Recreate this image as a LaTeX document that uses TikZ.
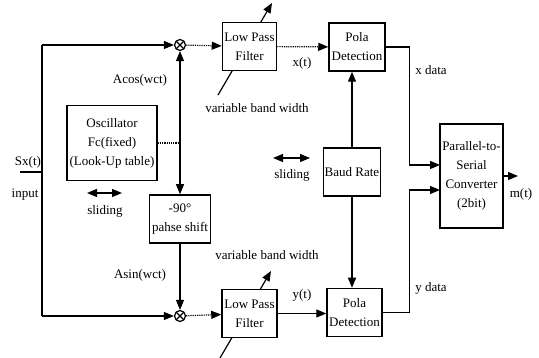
\documentclass[tikz,border=0pt]{standalone}
\usepackage{fontspec}
\setmainfont{Liberation Serif}
\usetikzlibrary{arrows.meta}
\newcommand*{\boxw}{55pt}
\newcommand*{\boxh}{48pt}

\begin{document}
\begin{tikzpicture}[x=1pt,y=-1pt,line width=1.2pt,
    font=\fontsize{13}{19}\selectfont,
    >={Triangle[length=10pt,width=8pt]},
    block/.style={draw,fill=white,align=center,inner sep=1pt,line width=1.5pt},
    mixer/.style={draw,fill=white,circle,minimum size=11pt,inner sep=0pt,
        path picture={\draw (path picture bounding box.north west) -- (path picture bounding box.south east)
                            (path picture bounding box.north east) -- (path picture bounding box.south west);}},
    lbl/.style={inner sep=0pt}]
    \useasboundingbox (0,0) rectangle (539,358);
    % variable band width arrows (behind the filters)
    \coordinate (vxa) at (218,95);  \coordinate (vxb) at (272,3);
    \coordinate (vya) at (220,358); \coordinate (vyb) at (271,271);
    \draw [->] (vxa) -- (vxb);
    \draw [->] (vya) -- (vyb);
    % blocks
    \node [block, minimum width=90pt, minimum height=75pt] (osc)   at (112,143) {Oscillator\\Fc(fixed)\\(Look-Up table)};
    \node [block, minimum width=61pt, minimum height=\boxh] (phase) at (180,219) {-90\textdegree\\pahse shift};
    \node [block, minimum width=54pt, minimum height=\boxh] (lpfx)  at (249.5,46.5) {Low Pass\\Filter};
    \node [block, minimum width=\boxw, minimum height=\boxh] (lpfy)  at (249.5,313.5) {Low Pass\\Filter};
    \node [block, minimum width=56pt, minimum height=\boxh] (polx)  at (357,47) {Pola\\Detection};
    \node [block, minimum width=\boxw, minimum height=\boxh] (poly)  at (354.5,312.5) {Pola\\Detection};
    \node [block, minimum width=54pt, minimum height=\boxh] (baud)  at (352,172) {Baud Rate};
    \node [block, minimum width=63pt, minimum height=104pt] (pts)  at (471.5,176) {Parallel-to-\\Serial\\Converter\\(2bit)};
    \node [mixer] (mixx) at (180,45) {};
    \node [mixer] (mixy) at (180,316) {};
    % input and branch points
    \coordinate (in)  at (20,172);
    \coordinate (inj) at (42,172);
    \coordinate (tl)  at (42,45);
    \coordinate (bl)  at (42,316);
    \coordinate (vj)  at (180,143);
    \coordinate (xin) at (440,165);
    \coordinate (yin) at (440,190);
    \coordinate (out) at (518,176);
    \draw (in) -- (inj);
    \draw (tl) -- (bl);
    \draw [->] (tl) -- (mixx);
    \draw [->] (bl) -- (mixy);
    \draw [densely dotted] (osc.east |- vj) -- (vj);
    \draw [<->] (mixx) -- (phase);
    \draw [->] (phase) -- (mixy);
    \draw [->, densely dotted] (mixx) -- (lpfx);
    \draw [->, densely dotted] (mixy) -- (lpfy);
    \draw [->, densely dotted] (lpfx) -- (polx);
    \draw [->] (lpfy.east) -- (poly.west |- lpfy.east);
    \draw [->] (baud.north) -- (baud.north |- polx.south);
    \draw [->] (baud.south) -- (baud.south |- poly.north);
    \draw [->] (polx.east) -- ([xshift=24pt]polx.east) |- (xin);
    \draw [->] (poly.east) -- ([xshift=27pt]poly.east) |- (yin);
    \draw [->] (pts.east) -- (out);
    % sliding arrows
    \coordinate (sla) at (87,193);  \coordinate (slb) at (122,193);
    \coordinate (slc) at (273,158); \coordinate (sld) at (310,158);
    \draw [<->] (sla) -- (slb);
    \draw [<->] (slc) -- (sld);
    % labels
    \node [lbl] (sx)    at (28,162)  {Sx(t)};
    \node [lbl] (inp)   at (25,195)  {input};
    \node [lbl] (acos)  at (140,80)  {Acos(wct)};
    \node [lbl] (asin)  at (140,275) {Asin(wct)};
    \node [lbl] (sl1)   at (105,211) {sliding};
    \node [lbl] (sl2)   at (292,175) {sliding};
    \node [lbl] (vbx)   at (257,108) {variable band width};
    \node [lbl] (vby)   at (267,255) {variable band width};
    \node [lbl] (xt)    at (302,63)  {x(t)};
    \node [lbl] (yt)    at (302,295) {y(t)};
    \node [lbl] (xd)    at (431,70)  {x data};
    \node [lbl] (yd)    at (431,288) {y data};
    \node [lbl] (mt)    at (521,194) {m(t)};
\end{tikzpicture}
\end{document}
